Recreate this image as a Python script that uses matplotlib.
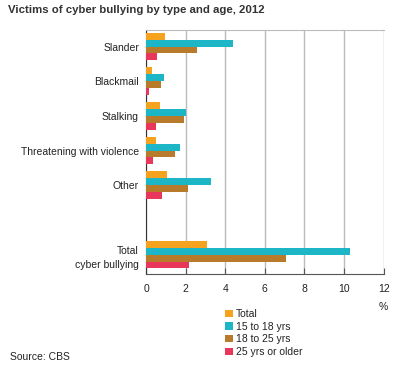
import numpy as np
import matplotlib.pyplot as plt

plt.rcParams['font.family'] = ['Liberation Sans', 'DejaVu Sans']

# data (%)
categories = ['Slander', 'Blackmail', 'Stalking', 'Threatening with violence',
              'Other', 'Total\ncyber bullying']
series_names = ['Total', '15 to 18 yrs', '18 to 25 yrs', '25 yrs or older']
total = [0.95, 0.3, 0.72, 0.5, 1.08, 3.07]
age_15_18 = [4.4, 0.9, 2.0, 1.72, 3.3, 10.3]
age_18_25 = [2.6, 0.75, 1.9, 1.47, 2.13, 7.05]
age_25_up = [0.55, 0.17, 0.52, 0.37, 0.83, 2.18]
colors = ['#F5A21E', '#1CB6C6', '#B87B2C', '#E8375A']

# slot positions: blank slot between "Other" and the total group
pos = np.array([0, 1, 2, 3, 4, 6])

fig = plt.figure(figsize=(4, 3.71), dpi=100)
ax = fig.add_axes([0.365, 0.2615, 0.594, 0.6575])

h = 0.2
for i, (vals, name, c) in enumerate(zip([total, age_15_18, age_18_25, age_25_up],
                                         series_names, colors)):
    ax.barh(pos - 0.3 + i * h, vals, height=h, color=c, label=name, zorder=3)

ax.set_xlim(0, 12)
ax.set_ylim(6.56, -0.475)
ax.set_xticks(range(0, 13, 2))
ax.set_yticks(pos)
ax.set_yticklabels(categories, fontsize=7.5, color='#222222')
for t in ax.get_yticklabels():
    t.set_multialignment('right')
    t.set_linespacing(1.6)
ax.tick_params(axis='y', length=0, pad=5)
ax.tick_params(axis='x', direction='in', length=4, labelsize=7.5,
               labelcolor='#222222', color='#555555', pad=7)
ax.grid(axis='x', color='#BBBBBB', linewidth=1, zorder=0)
ax.spines['right'].set_visible(False)
ax.spines['top'].set_color('#BBBBBB')
ax.spines['left'].set_color('#333333')
ax.spines['bottom'].set_color('#555555')

fig.text(0.957, 0.172, '%', fontsize=7.5, color='#222222', ha='center', va='center')
fig.text(0.02, 0.972, 'Victims of cyber bullying by type and age, 2012',
         fontsize=8.2, fontweight='bold', color='#333333', va='center')
fig.text(0.025, 0.038, 'Source: CBS', fontsize=7.5, color='#222222', va='center')

leg = fig.legend(loc='upper left', bbox_to_anchor=(0.55, 0.181), frameon=False,
                 fontsize=7.5, handlelength=0.7, handleheight=0.7,
                 handletextpad=0.35, labelspacing=0.25, borderpad=0)
for t in leg.get_texts():
    t.set_color('#222222')

plt.savefig('out.png', dpi=100)
